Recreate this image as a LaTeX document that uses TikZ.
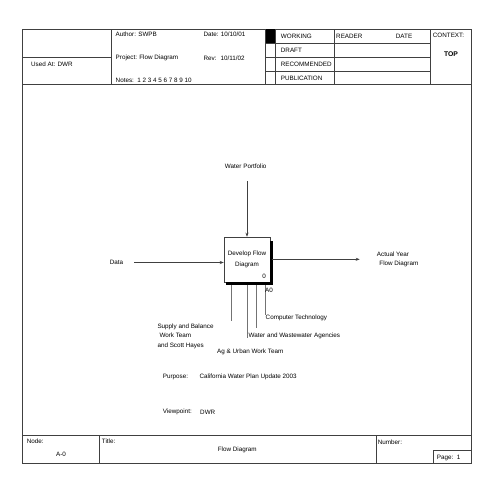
\documentclass[tikz,border=0pt]{standalone}
\usepackage{fontspec}
\setmainfont{Liberation Sans}
\usetikzlibrary{arrows.meta}
\begin{document}
\begin{tikzpicture}[x=1pt,y=-1pt,
  every node/.style={inner sep=0pt, font=\fontsize{6.3}{9.7}\selectfont},
  lbl/.style={anchor=west},
  frame/.style={draw=black!75, line width=0.5pt},
  flow/.style={draw=black!75, line width=0.5pt, -{Stealth[length=4pt,width=3pt]}},
  mech/.style={draw=black!55, line width=0.5pt},
]
\useasboundingbox (0,0) rectangle (495,495);
% frame
\draw[frame] (22,29.5) rectangle (471,463);
\draw[frame] (22,84) -- (471,84);
\draw[frame] (22,435) -- (471,435);
% header
\draw[frame] (111,29.5) -- (111,84);
\draw[frame] (22,57) -- (111,57);
\draw[frame] (265.5,29.5) -- (265.5,84);
\draw[frame] (275,29.5) -- (275,84);
\draw[frame] (334,29.5) -- (334,84);
\draw[frame] (430,29.5) -- (430,84);
\draw[frame] (265.5,43.3) -- (430,43.3);
\draw[frame] (265.5,57.5) -- (430,57.5);
\draw[frame] (265.5,71) -- (430,71);
\fill (265.5,29.5) rectangle (275,43.3);
\node[lbl] (author) at (115.5,34) {Author: SWPB};
\node[lbl] (date) at (203.3,34) {Date: 10/10/01};
\node[lbl] (project) at (115.5,58.3) {Project: Flow Diagram};
\node[lbl] (rev) at (203.3,58.3) {Rev: \ 10/11/02};
\node[lbl] (notes) at (115.5,80.5) {Notes:\ \ 1 2 3 4 5 6 7 8 9 10};
\node[lbl] (usedat) at (31,64.3) {Used At: DWR};
\node[lbl] (working) at (280.7,36) {WORKING};
\node[lbl] (reader) at (336,36) {READER};
\node[lbl] (datecol) at (395.7,36) {DATE};
\node[lbl] (context) at (432.7,35) {CONTEXT:};
\node[font=\fontsize{6.8}{8}\selectfont\bfseries] (top) at (451,54.3) {TOP};
\node[lbl] (draft) at (280.7,50.7) {DRAFT};
\node[lbl] (recommended) at (280.7,64.3) {RECOMMENDED};
\node[lbl] (publication) at (280.7,78.3) {PUBLICATION};
% footer
\draw[frame] (99.3,435) -- (99.3,463);
\draw[frame] (376,435) -- (376,463);
\draw[frame] (433.3,450.7) rectangle (471,463);
\node[lbl] (nodelbl) at (26.7,441.7) {Node:};
\node (nodeval) at (61,454) {A-0};
\node[lbl] (titlelbl) at (101.7,441.7) {Title:};
\node (titleval) at (237.3,450) {Flow Diagram};
\node[lbl] (numberlbl) at (377.7,442.5) {Number:};
\node[lbl] (page) at (436.7,457.5) {Page:\ \ 1};
% diagram
\coordinate (m1) at (231,321);
\coordinate (m2) at (247,338);
\coordinate (m3) at (256,328);
\coordinate (m4) at (265.3,315);
\node[draw=black!75, line width=0.5pt, minimum width=46pt, minimum height=45pt,
      align=center, font=\fontsize{6.3}{10.7}\selectfont] (box) at (247,259.5) {Develop Flow\\Diagram};
\draw[mech] (box.south -| m1) -- (m1);
\draw[mech] (box.south -| m2) -- (m2);
\draw[mech] (box.south -| m3) -- (m3);
\draw[mech] (box.south -| m4) -- (m4);
\draw[line width=3pt] ([xshift=1.5pt,yshift=-4.5pt]box.north east) -- ([xshift=1.5pt,yshift=-1.5pt]box.south east) -- ([xshift=2pt,yshift=-1.5pt]box.south west);
\node (boxnum) at (264,276.7) {0};
\node[lbl] (boxid) at (265,290.7) {A0};
\node (data) at (116.5,262.5) {Data};
\draw[flow, shorten <=11pt] (data.east) -- (data.east -| box.west);
\node[lbl, align=left] (out) at (376.7,259.3) {Actual Year\\\hspace{2.5pt}Flow Diagram};
\draw[flow, shorten <=1.5pt, shorten >=17pt] (out.west -| box.east) -- (out.west);
\node (wp) at (245.7,166) {Water Portfolio};
\draw[flow, shorten <=12.5pt] (wp.south -| box.north) -- (box.north);
\node[lbl, align=left] (supply) at (157.3,336.3) {Supply and Balance\\\hspace{2pt}Work Team\\and Scott Hayes};
\node[lbl] (ag) at (217,351.5) {Ag \& Urban Work Team};
\node[lbl] (water) at (248.5,336) {Water and Wastewater Agencies};
\node[lbl] (comp) at (265.5,318) {Computer Technology};
\node[lbl] (purpose) at (162.7,377) {Purpose:};
\node[lbl] (purposeval) at (199.3,377) {California Water Plan Update 2003};
\node[lbl] (viewpoint) at (162.7,412) {Viewpoint:};
\node[lbl] (viewpointval) at (200,412) {DWR};
\end{tikzpicture}
\end{document}
